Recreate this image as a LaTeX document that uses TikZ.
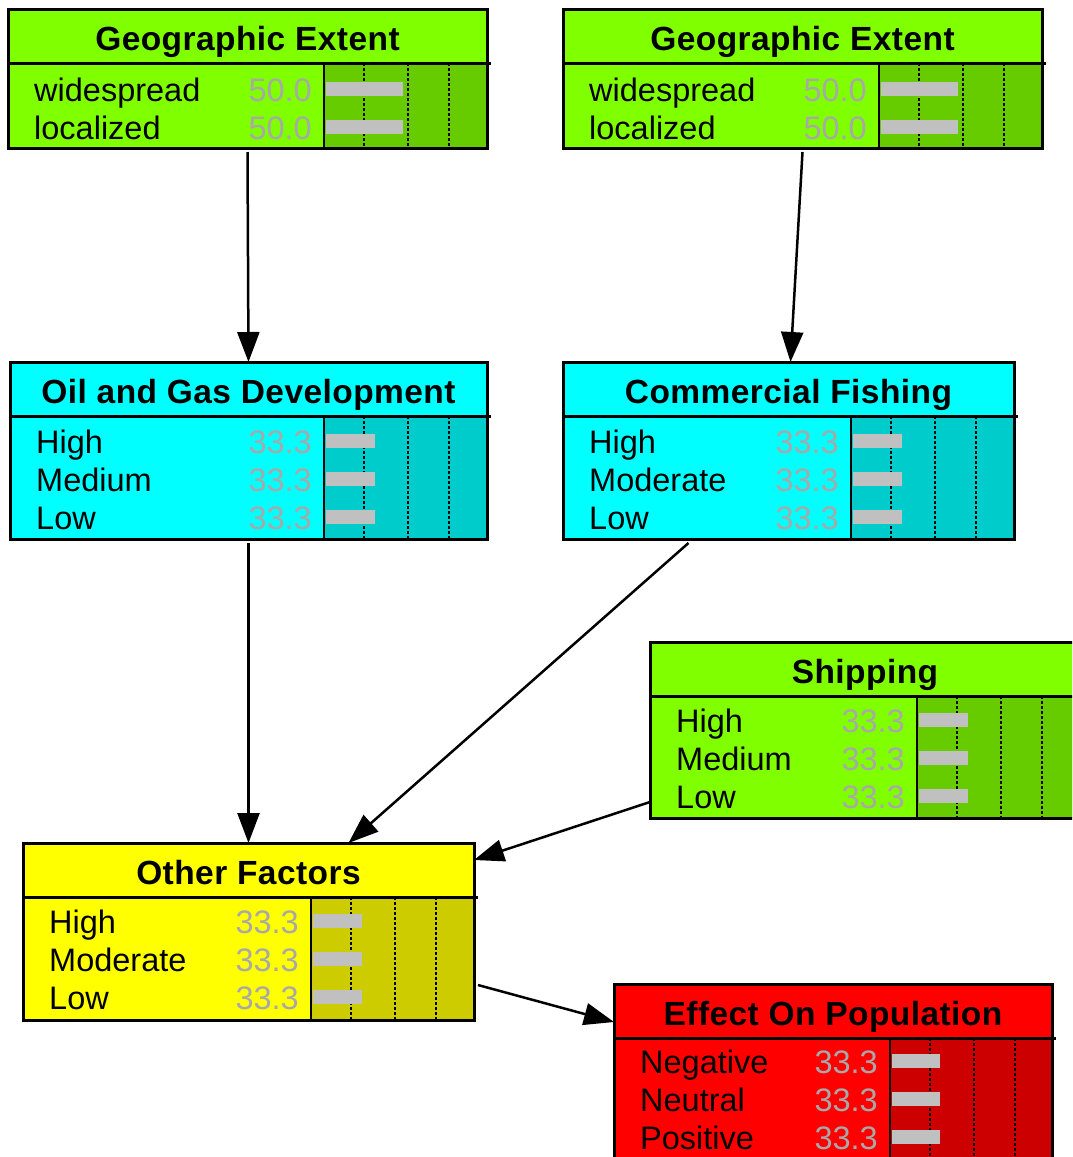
\documentclass[tikz,border=0pt]{standalone}
\usepackage{fontspec}
\setmainfont{Liberation Sans}
\newfontfamily\titlefont[LetterSpace=1.3]{Liberation Sans}
\usetikzlibrary{arrows.meta}

\definecolor{greenLight}{HTML}{80FF00}
\definecolor{greenDark}{HTML}{66CC00}
\definecolor{cyanLight}{HTML}{00FFFF}
\definecolor{cyanDark}{HTML}{00CCCC}
\definecolor{yellowLight}{HTML}{FFFF00}
\definecolor{yellowDark}{HTML}{CCCC00}
\definecolor{redLight}{HTML}{FF0000}
\definecolor{redDark}{HTML}{CC0000}
\definecolor{barGray}{HTML}{C0C0C0}
\definecolor{valueGray}{HTML}{A8A8A8}

\tikzset{
  nodebox/.style={draw=black, line width=3pt, inner sep=0pt, outer sep=0pt},
  sepline/.style={draw=black, line width=3pt},
  barsep/.style={draw=black, line width=2.5pt},
  gridline/.style={draw=black, line width=2pt, dash pattern=on 2.5pt off 2.5pt},
  titletext/.style={anchor=base, inner sep=0pt, font=\fontsize{33.5}{38}\titlefont\bfseries},
  statetext/.style={anchor=base west, inner sep=0pt, font=\fontsize{32.5}{38}\selectfont},
  valuetext/.style={anchor=base east, inner sep=0pt, text=valueGray, font=\fontsize{32.5}{38}\selectfont},
  conn/.style={draw=black, line width=2.5pt, -{Triangle[length=30pt, width=22pt]}},
}

% #1 name, #2 left, #3 top, #4 right, #5 start of the bar panel, #6 bottom,
% #7 fill, #8 panel fill, #9 title
\newcommand\netbox[9]{%
  \fill[#7] (#2,#3) rectangle (#4,#6);
  \fill[#8] (#5,#3+54) rectangle (#4,#6);
  \foreach \d in {40,84,125} \draw[gridline] (#5+\d,#3+54) -- (#5+\d,#6);
  \draw[barsep] (#5,#3+54) -- (#5,#6);
  \draw[sepline] (#2,#3+54) -- (#4+4,#3+54);
  \node[nodebox, minimum width={(#4-#2)*1pt}, minimum height={(#6-#3)*1pt},
        anchor=north west] (#1) at (#2,#3) {};
  \node[titletext] (#1-title) at ({(#2+#4)/2},#3+41) {#9};
}

% #1 name, #2 box left, #3 start of the bar panel, #4 baseline,
% #5 state, #6 value, #7 bar length
\newcommand\netrow[7]{%
  \node[statetext] (#1) at (#2+26,#4) {#5};
  \node[valuetext] (#1-v) at (#3-12,#4) {#6};
  \fill[barGray] (#3+2,#4-19) rectangle (#3+#7,#4-5);
}

\begin{document}
\begin{tikzpicture}[x=1pt, y=-1pt]
\useasboundingbox (0,0) rectangle (1072,1157);
\clip (0,0) rectangle (1072,1157);

% Geographic extent (left)
\netbox{geoA}{8}{9}{487}{324}{148}{greenLight}{greenDark}{Geographic Extent}
\netrow{geoA-1}{8}{324}{101}{widespread}{50.0}{79}
\netrow{geoA-2}{8}{324}{139}{localized}{50.0}{79}

% Geographic extent (right)
\netbox{geoB}{563}{9}{1042}{879}{148}{greenLight}{greenDark}{Geographic Extent}
\netrow{geoB-1}{563}{879}{101}{widespread}{50.0}{79}
\netrow{geoB-2}{563}{879}{139}{localized}{50.0}{79}

% Oil and gas development
\netbox{oil}{10}{362}{487}{324}{539}{cyanLight}{cyanDark}{Oil and Gas Development}
\netrow{oil-1}{10}{324}{453}{High}{33.3}{51}
\netrow{oil-2}{10}{324}{491}{Medium}{33.3}{51}
\netrow{oil-3}{10}{324}{529}{Low}{33.3}{51}

% Commercial fishing
\netbox{fish}{563}{362}{1014}{851}{539}{cyanLight}{cyanDark}{Commercial Fishing}
\netrow{fish-1}{563}{851}{453}{High}{33.3}{51}
\netrow{fish-2}{563}{851}{491}{Moderate}{33.3}{51}
\netrow{fish-3}{563}{851}{529}{Low}{33.3}{51}

% Shipping
\netbox{ship}{650}{642}{1080}{917}{818}{greenLight}{greenDark}{Shipping}
\netrow{ship-1}{650}{917}{732}{High}{33.3}{51}
\netrow{ship-2}{650}{917}{770}{Medium}{33.3}{51}
\netrow{ship-3}{650}{917}{808}{Low}{33.3}{51}

% Other factors
\netbox{other}{23}{843}{474}{311}{1020}{yellowLight}{yellowDark}{Other Factors}
\netrow{other-1}{23}{311}{933}{High}{33.3}{51}
\netrow{other-2}{23}{311}{971}{Moderate}{33.3}{51}
\netrow{other-3}{23}{311}{1009}{Low}{33.3}{51}

% Effect on population
\netbox{effect}{614}{984}{1052}{890}{1162}{redLight}{redDark}{Effect On Population}
\netrow{effect-1}{614}{890}{1073}{Negative}{33.3}{50}
\netrow{effect-2}{614}{890}{1111}{Neutral}{33.3}{50}
\netrow{effect-3}{614}{890}{1149}{Positive}{33.3}{50}

% Dependencies
\draw[conn] ([yshift=-4pt]geoA.south) -- (oil.north);
\draw[conn] ([yshift=-4pt]geoB.south) -- ([xshift=2pt]fish.north);
\draw[conn] ([yshift=-4pt]oil.south) -- (other.north);
\draw[conn] ([xshift=-100pt,yshift=-4pt]fish.south) -- ([xshift=100pt]other.north);
\draw[conn] ([yshift=16pt]ship.south west) -- ([yshift=-17pt]other.north east);
\draw[conn] ([xshift=4pt,yshift=35pt]other.south east) -- ([yshift=-38pt]effect.north west);
\end{tikzpicture}
\end{document}
